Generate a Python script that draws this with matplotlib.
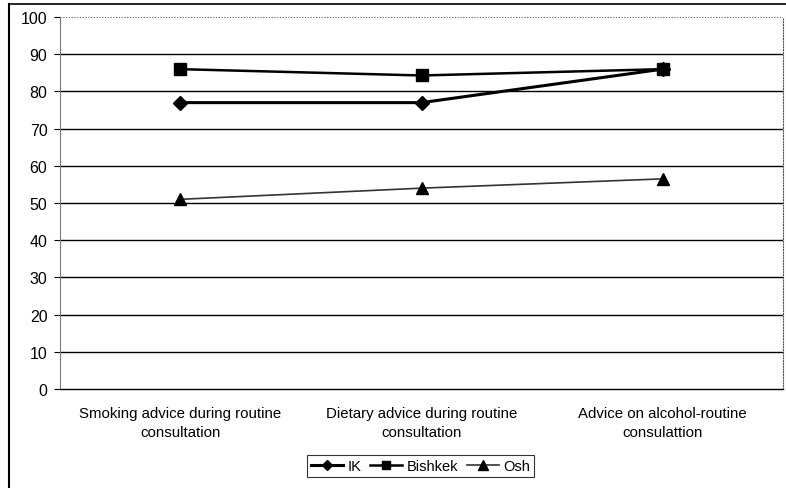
import matplotlib.pyplot as plt
from matplotlib.lines import Line2D

categories = ["Smoking advice during routine\nconsultation",
              "Dietary advice during routine\nconsultation",
              "Advice on alcohol-routine\nconsulattion"]
ik = [77, 77, 86]
bishkek = [86, 84.3, 86]
osh = [51, 54, 56.5]
yticks = [0, 10, 20, 30, 40, 50, 60, 70, 80, 90, 100]

plt.rcParams['font.family'] = ['Liberation Sans', 'DejaVu Sans']

fig = plt.figure(figsize=(7.86, 4.89), dpi=100)
ax = fig.add_axes([0.0763, 0.2025, 0.92, 0.7605])

x = list(range(len(categories)))
ax.plot(x, ik, color='black', lw=2.2, marker='D', ms=7, label='IK')
ax.plot(x, bishkek, color='black', lw=1.8, marker='s', ms=8, label='Bishkek')
ax.plot(x, osh, color='#333333', lw=1.2, marker='^', ms=9, mec='black', mfc='black', label='Osh')

ax.set_xlim(-0.5, 2.5)
ax.set_ylim(0, 100)
ax.set_yticks(yticks)
ax.set_xticks(x)
ax.set_xticklabels(categories, fontsize=10.8, linespacing=1.45)
ax.tick_params(axis='y', labelsize=11.5, length=4, color='black', pad=5)
ax.tick_params(axis='x', length=0, pad=12)

for v in yticks[1:-1]:
    ax.axhline(v, color='black', lw=1.0, zorder=0)
ax.axhline(100, color='#555555', lw=0.8, ls=(0, (1, 1.5)), zorder=0)

ax.spines['top'].set_visible(False)
ax.spines['right'].set_color('#555555')
ax.spines['right'].set_linestyle((0, (1, 1.5)))
ax.spines['right'].set_linewidth(0.8)
ax.spines['left'].set_color('#777777')
ax.spines['left'].set_linewidth(0.8)
ax.spines['bottom'].set_linewidth(1.0)

leg = fig.legend(loc='center', bbox_to_anchor=(0.535, 0.045), ncol=3, fontsize=10.5,
                 frameon=True, fancybox=False, edgecolor='black',
                 handlelength=2.2, handletextpad=0.3, columnspacing=0.6,
                 borderpad=0.3, markerscale=0.8)
leg.get_frame().set_linewidth(0.8)

# page border fragments (left and top edge of the scanned frame)
fig.add_artist(Line2D([0.011, 0.011], [0, 0.99], color='black', lw=1.5))
fig.add_artist(Line2D([0.011, 1.0], [0.99, 0.99], color='black', lw=1.2))

fig.savefig('out.png', dpi=100)
